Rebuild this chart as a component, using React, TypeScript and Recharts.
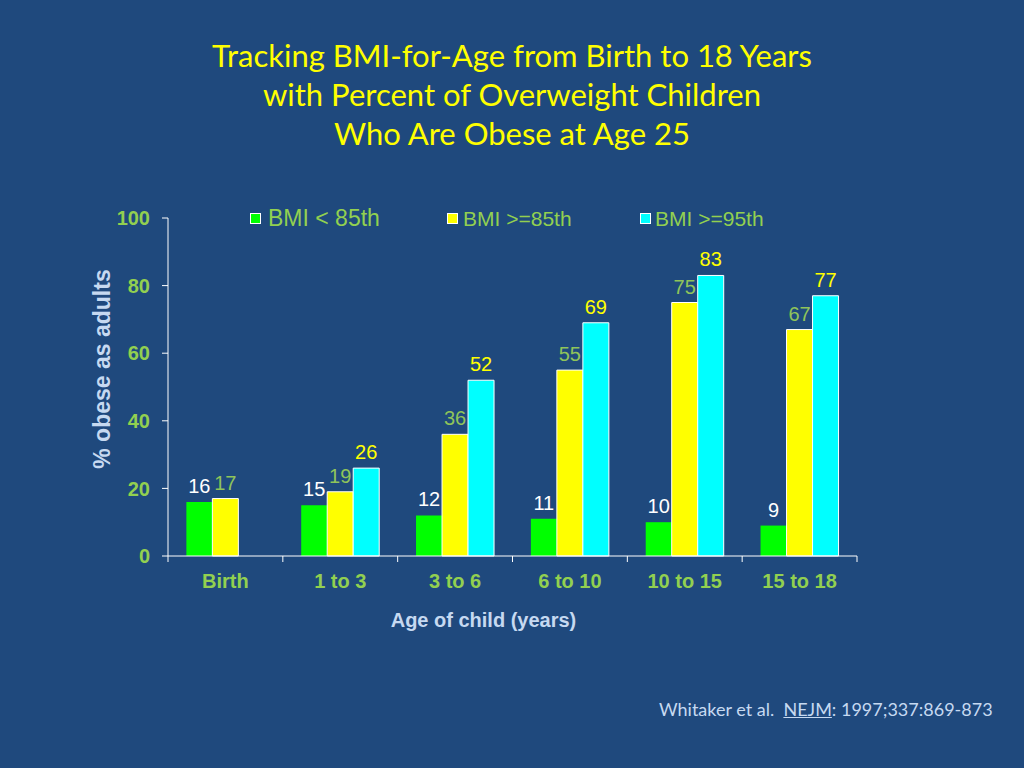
import { BarChart, Bar, XAxis, YAxis, Legend, LabelList } from 'recharts';

const ageGroups = ['Birth', '1 to 3', '3 to 6', '6 to 10', '10 to 15', '15 to 18'];
const bmiUnder85 = [16, 15, 12, 11, 10, 9];
const bmiOver85 = [17, 19, 36, 55, 75, 67];
const bmiOver95 = [null, 26, 52, 69, 83, 77];
const yTicks = [0, 20, 40, 60, 80, 100];

const titleLines = [
  'Tracking BMI-for-Age from Birth to 18 Years',
  'with Percent of Overweight Children',
  'Who Are Obese at Age 25',
];

const data = ageGroups.map((age, i) => ({
  age,
  under85: bmiUnder85[i],
  over85: bmiOver85[i],
  over95: bmiOver95[i],
}));

const BG = '#1f497d';
const TICK_GREEN = '#92d050';
const LABEL_GREEN = '#8fc45a';
const LIGHT_BLUE = '#c6d9f1';
const FONT = '"Liberation Sans", Arial, sans-serif';

const legendItems = [
  { label: 'BMI < 85th', color: '#00ff00', left: 250, textLeft: 268, size: 23, top: 1 },
  { label: 'BMI >=85th', color: '#ffff00', left: 447, textLeft: 463, size: 21, top: 3 },
  { label: 'BMI >=95th', color: '#00ffff', left: 640, textLeft: 655, size: 21, top: 3 },
];

function renderLegend() {
  return (
    <div style={{ position: 'relative', height: 28, fontFamily: FONT }}>
      {legendItems.map((it) => (
        <div key={it.label}>
          <span
            style={{
              position: 'absolute',
              left: it.left,
              top: 9,
              width: 9,
              height: 9,
              background: it.color,
              border: '1px solid #fff',
            }}
          />
          <span
            style={{
              position: 'absolute',
              left: it.textLeft,
              top: it.top,
              fontSize: it.size,
              color: TICK_GREEN,
              whiteSpace: 'nowrap',
            }}
          >
            {it.label}
          </span>
        </div>
      ))}
    </div>
  );
}

// category labels, with the tick marks sitting on the group boundaries
function AgeTick(props: any) {
  const { x, y, payload, index } = props;
  const half = payload.offset || 57.5;
  const axisY = y - 6;
  return (
    <g>
      <line x1={x - half} x2={x - half} y1={axisY} y2={axisY + 6} stroke="#fff" />
      {index === ageGroups.length - 1 && (
        <line x1={x + half} x2={x + half} y1={axisY} y2={axisY + 6} stroke="#fff" />
      )}
      <text
        x={x}
        y={axisY + 32}
        textAnchor="middle"
        fill={TICK_GREEN}
        fontSize={20}
        fontWeight="bold"
        fontFamily={FONT}
      >
        {payload.value}
      </text>
    </g>
  );
}

function YLabel(props: any) {
  const { x, y, height } = props.viewBox;
  const cx = x + 24;
  const cy = y + height / 2 - 18;
  return (
    <text
      x={cx}
      y={cy}
      transform={`rotate(-90 ${cx} ${cy})`}
      textAnchor="middle"
      dominantBaseline="central"
      fill={LIGHT_BLUE}
      fontSize={23}
      fontWeight="bold"
      fontFamily={FONT}
    >
      % obese as adults
    </text>
  );
}

export default function App() {
  return (
    <div
      style={{
        position: 'absolute',
        left: 0,
        top: 0,
        width: 1024,
        height: 768,
        background: BG,
        overflow: 'hidden',
      }}
    >
      <div
        style={{
          position: 'absolute',
          top: 36,
          left: 0,
          width: 1024,
          textAlign: 'center',
          color: '#ffff00',
          fontFamily: 'Lato, "Open Sans", sans-serif',
          fontSize: 31,
          lineHeight: '39px',
        }}
      >
        {titleLines.map((t) => (
          <div key={t}>{t}</div>
        ))}
      </div>

      <div style={{ position: 'absolute', left: 0, top: 0 }}>
        <BarChart
          width={1024}
          height={768}
          data={data}
          margin={{ top: 218, right: 167, bottom: 136, left: 78 }}
          barCategoryGap="16%"
          barGap={0}
        >
          <Legend
            layout="horizontal"
            verticalAlign="middle"
            align="center"
            content={renderLegend}
            wrapperStyle={{ top: 204, left: 0, width: 1024 }}
          />
          <XAxis
            dataKey="age"
            height={76}
            axisLine={{ stroke: '#fff' }}
            tickLine={false}
            tickSize={6}
            tickMargin={0}
            tick={<AgeTick />}
            interval={0}
            label={{
              value: 'Age of child (years)',
              position: 'insideBottom',
              offset: 5,
              dx: -29,
              fill: LIGHT_BLUE,
              fontSize: 20,
              fontWeight: 'bold',
              fontFamily: FONT,
            }}
          />
          <YAxis
            width={90}
            domain={[0, 100]}
            ticks={yTicks}
            axisLine={{ stroke: '#fff' }}
            tickLine={{ stroke: '#fff' }}
            tickSize={6}
            tickMargin={12}
            tick={{ fill: TICK_GREEN, fontSize: 20, fontWeight: 'bold', fontFamily: FONT }}
            label={{ content: <YLabel /> }}
          />
          <Bar dataKey="under85" name="BMI < 85th" fill="#00ff00" isAnimationActive={false}>
            <LabelList dataKey="under85" position="top" offset={9} fill="#ffffff" fontSize={20} fontFamily={FONT} />
          </Bar>
          <Bar dataKey="over85" name="BMI >=85th" fill="#ffff00" stroke="#ffffff" strokeWidth={1} isAnimationActive={false}>
            <LabelList dataKey="over85" position="top" offset={9} fill={LABEL_GREEN} fontSize={20} fontFamily={FONT} />
          </Bar>
          <Bar dataKey="over95" name="BMI >=95th" fill="#00ffff" stroke="#ffffff" strokeWidth={1} isAnimationActive={false}>
            <LabelList dataKey="over95" position="top" offset={9} fill="#ffff00" fontSize={20} fontFamily={FONT} />
          </Bar>
        </BarChart>
      </div>

      <div
        style={{
          position: 'absolute',
          left: 659,
          top: 698,
          color: LIGHT_BLUE,
          fontFamily: 'Lato, "Open Sans", sans-serif',
          fontSize: 18,
          whiteSpace: 'nowrap',
        }}
      >
        Whitaker et al.&nbsp; <span style={{ textDecoration: 'underline' }}>NEJM</span>: 1997;337:869-873
      </div>
    </div>
  );
}
